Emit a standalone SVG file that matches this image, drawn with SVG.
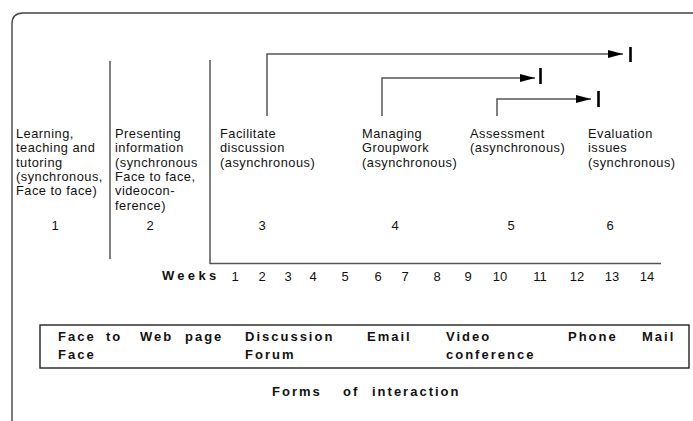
<svg xmlns="http://www.w3.org/2000/svg" width="693" height="421" viewBox="0 0 693 421">
<defs>
<style>
.t{font-family:"Liberation Sans",Arial,sans-serif;font-size:12.8px;fill:#111;letter-spacing:0.5px}
.n{font-family:"Liberation Sans",Arial,sans-serif;font-size:13px;fill:#111}
.b{font-family:"Liberation Sans",Arial,sans-serif;font-size:13px;font-weight:bold;fill:#111;letter-spacing:2px}
.ln{fill:none;stroke:#555;stroke-width:1.5}
.bar{stroke:#000;stroke-width:2.6}
</style>
<marker id="ah" markerWidth="15" markerHeight="8" refX="15" refY="4" orient="auto" markerUnits="userSpaceOnUse">
<path d="M0,0 L15,4 L0,8 Z" fill="#000"/>
</marker>
</defs>
<rect width="693" height="421" fill="#fff"/>
<path id="frame" d="M12,430 L12,24 Q12,13 23,13 L700,13" fill="none" stroke="#444" stroke-width="1.4"/>
<g id="connectors">
<line class="ln" x1="110" y1="61" x2="110" y2="259"/>
<path class="ln" d="M210,60 L210,263.5 L661,263.5"/>
<path class="ln" d="M267,116 L267,54 L623,54" marker-end="url(#ah)"/>
<line class="bar" x1="630.5" y1="47" x2="630.5" y2="62"/>
<path class="ln" d="M382,116 L382,78 L535,78" marker-end="url(#ah)"/>
<line class="bar" x1="540.5" y1="68" x2="540.5" y2="84"/>
<path class="ln" d="M497,116 L497,99 L591,99" marker-end="url(#ah)"/>
<line class="bar" x1="598.5" y1="91" x2="598.5" y2="107"/>
</g>
<g id="col1">
<text class="t" x="16" y="138">Learning,</text>
<text class="t" x="16" y="152.3">teaching and</text>
<text class="t" x="16" y="166.6">tutoring</text>
<text class="t" x="16" y="180.9">(synchronous,</text>
<text class="t" x="16" y="195.2">Face to face)</text>
<text class="n" x="55" y="230" text-anchor="middle">1</text>
</g>
<g id="col2">
<text class="t" x="115" y="138">Presenting</text>
<text class="t" x="115" y="152.3">information</text>
<text class="t" x="115" y="166.6">(synchronous</text>
<text class="t" x="115" y="180.9">Face to face,</text>
<text class="t" x="115" y="195.2">videocon-</text>
<text class="t" x="115" y="209.5">ference)</text>
<text class="n" x="150" y="230" text-anchor="middle">2</text>
</g>
<g id="col3">
<text class="t" x="220" y="138">Facilitate</text>
<text class="t" x="220" y="152.3">discussion</text>
<text class="t" x="220" y="166.6">(asynchronous)</text>
<text class="n" x="262" y="230" text-anchor="middle">3</text>
</g>
<g id="col4">
<text class="t" x="362" y="138">Managing</text>
<text class="t" x="362" y="152.3">Groupwork</text>
<text class="t" x="362" y="166.6">(asynchronous)</text>
<text class="n" x="395" y="230" text-anchor="middle">4</text>
</g>
<g id="col5">
<text class="t" x="470" y="138">Assessment</text>
<text class="t" x="470" y="152.3">(asynchronous)</text>
<text class="n" x="511" y="230" text-anchor="middle">5</text>
</g>
<g id="col6">
<text class="t" x="588" y="138">Evaluation</text>
<text class="t" x="588" y="152.3">issues</text>
<text class="t" x="588" y="166.6">(synchronous)</text>
<text class="n" x="610" y="230" text-anchor="middle">6</text>
</g>
<g id="weeks">
<text class="b" x="162" y="280" style="letter-spacing:3.3px">Weeks</text>
<text class="n" x="235" y="280.5" text-anchor="middle">1</text>
<text class="n" x="262" y="280.5" text-anchor="middle">2</text>
<text class="n" x="288" y="280.5" text-anchor="middle">3</text>
<text class="n" x="313" y="280.5" text-anchor="middle">4</text>
<text class="n" x="345" y="280.5" text-anchor="middle">5</text>
<text class="n" x="378" y="280.5" text-anchor="middle">6</text>
<text class="n" x="405" y="280.5" text-anchor="middle">7</text>
<text class="n" x="437" y="280.5" text-anchor="middle">8</text>
<text class="n" x="468" y="280.5" text-anchor="middle">9</text>
<text class="n" x="500" y="280.5" text-anchor="middle">10</text>
<text class="n" x="540" y="280.5" text-anchor="middle">11</text>
<text class="n" x="577" y="280.5" text-anchor="middle">12</text>
<text class="n" x="612" y="280.5" text-anchor="middle">13</text>
<text class="n" x="647" y="280.5" text-anchor="middle">14</text>
</g>
<g id="forms-box">
<rect x="40" y="325" width="649" height="43" fill="none" stroke="#222" stroke-width="1.4"/>
<text class="b" x="58" y="341">Face</text>
<text class="b" x="106" y="341">to</text>
<text class="b" x="58" y="358.5">Face</text>
<text class="b" x="140" y="341">Web</text>
<text class="b" x="185" y="341">page</text>
<text class="b" x="245" y="341">Discussion</text>
<text class="b" x="245" y="358.5">Forum</text>
<text class="b" x="367" y="341">Email</text>
<text class="b" x="446" y="341">Video</text>
<text class="b" x="446" y="358.5">conference</text>
<text class="b" x="568" y="341">Phone</text>
<text class="b" x="642" y="341">Mail</text>
</g>
<g id="forms-label">
<text class="b" x="272" y="396">Forms</text>
<text class="b" x="343" y="396">of</text>
<text class="b" x="372" y="396">interaction</text>
</g>
</svg>
